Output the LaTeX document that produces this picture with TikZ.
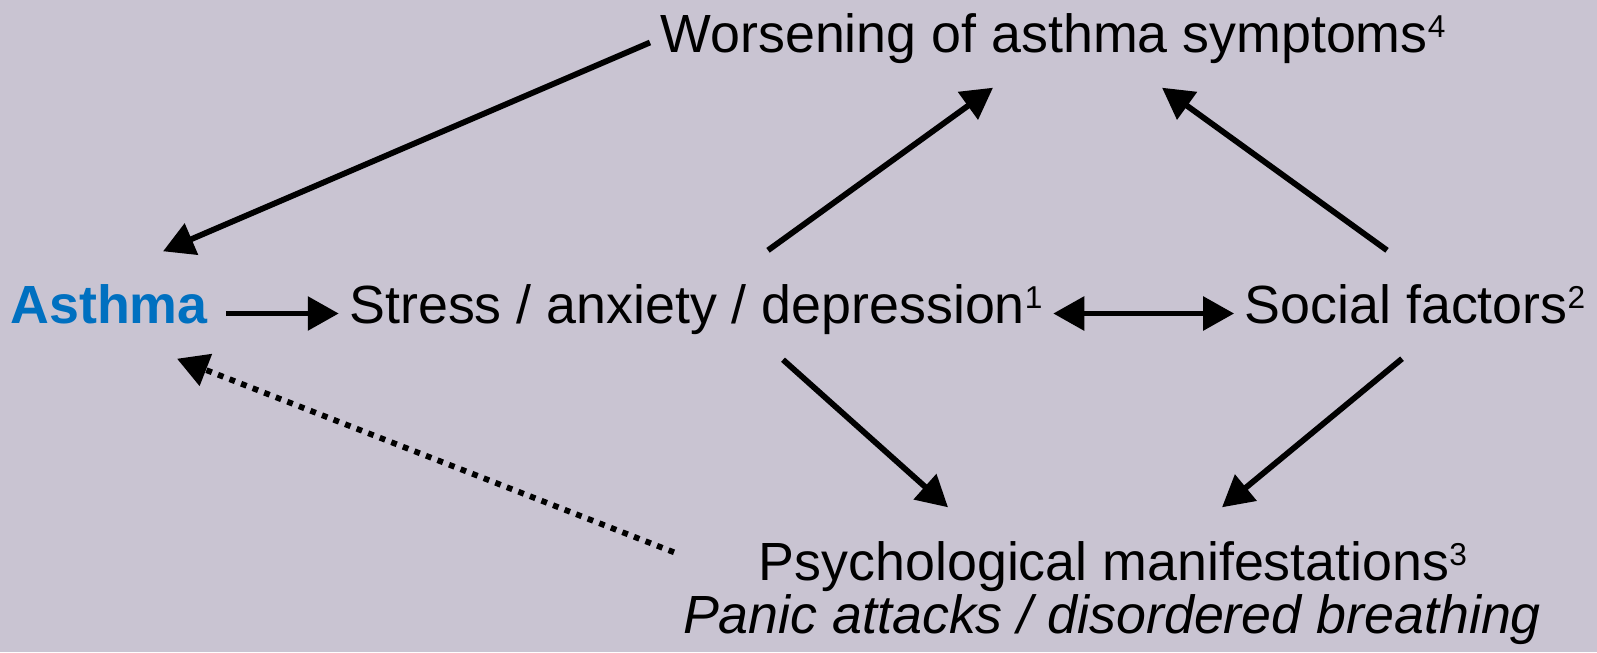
\documentclass[tikz,border=0pt]{standalone}
\usepackage{fontspec}
\setmainfont{Liberation Sans}
\usepackage{xcolor}
\usetikzlibrary{arrows.meta,calc,positioning}

\definecolor{bgcol}{RGB}{201,196,210}
\definecolor{asthmablue}{RGB}{0,112,192}
\newcommand\refnum[1]{\raisebox{0.15cm}{\fontsize{9}{10}\selectfont#1}}

\begin{document}
\begin{tikzpicture}[>=Triangle,
  lbl/.style={font=\fontsize{15.3}{18}\selectfont,anchor=base,inner sep=0.1cm,
    text height=0.38cm,text depth=0.19cm},
  arr/.style={line width=1.65pt,-{Triangle[length=3.1mm,width=3.3mm]}},
  dotarr/.style={arr,line cap=butt,dash pattern=on 0.058cm off 0.066cm}]
\fill[bgcol] (0,0) rectangle (15.97,-6.52);
\useasboundingbox (0,0) rectangle (15.97,-6.52);

\node[lbl,text=asthmablue,font=\fontsize{15.3}{18}\selectfont\bfseries] (asthma) at (1.09,-3.23) {Asthma};
\node[lbl] (stress) at (6.96,-3.23) {Stress / anxiety / depression\refnum{1}};
\node[lbl] (social) at (14.15,-3.23) {Social factors\refnum{2}};
\node[lbl] (worsen) at (10.53,-0.52) {Worsening of asthma symptoms\refnum{4}};
\node[lbl] (psych) at (11.13,-5.80) {Psychological manifestations\refnum{3}};
\node[lbl,font=\fontsize{15.3}{18}\selectfont\itshape] (panic) at (11.12,-6.33) {Panic attacks / disordered breathing};

% horizontal links
\draw[arr,shorten <=0.08cm] (asthma.east) -- (stress.west);
\draw[arr,{Triangle[length=3.1mm,width=3.3mm]}-{Triangle[length=3.1mm,width=3.3mm]}]
  (stress.east) -- (social.west);

% up to worsening
\draw[arr] (worsen.west) -- ([xshift=0.54cm,yshift=0.23cm]asthma.north);
\draw[arr] ([xshift=0.72cm,yshift=0.24cm]stress.north) -- ([xshift=-0.60cm,yshift=-0.06cm]worsen.south);
\draw[arr] ([xshift=-0.28cm,yshift=0.24cm]social.north) -- ([xshift=1.09cm,yshift=-0.06cm]worsen.south);

% down to manifestations
\draw[arr] ([xshift=0.87cm,yshift=-0.07cm]stress.south) -- ([xshift=-1.65cm,yshift=0.24cm]psych.north);
\draw[arr] ([xshift=-0.13cm,yshift=-0.06cm]social.south) -- ([xshift=1.09cm,yshift=0.24cm]psych.north);
\draw[dotarr] ([xshift=-4.39cm,yshift=-0.21cm]psych.north) -- ([xshift=0.68cm,yshift=-0.06cm]asthma.south);
\end{tikzpicture}
\end{document}
